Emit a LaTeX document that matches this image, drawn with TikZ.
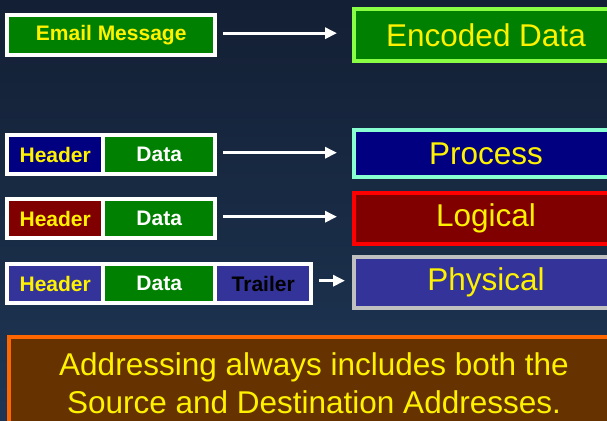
\documentclass[tikz,border=0pt]{standalone}
\usepackage{fontspec}
\setmainfont{Liberation Sans}
\usetikzlibrary{arrows.meta}
\definecolor{bgtop}{RGB}{19,31,52}
\definecolor{bgbot}{RGB}{30,54,84}
\definecolor{pgreen}{RGB}{0,128,0}
\definecolor{pnavy}{RGB}{0,0,128}
\definecolor{pmaroon}{RGB}{128,0,0}
\definecolor{pblue}{RGB}{51,51,153}
\definecolor{plime}{RGB}{136,255,68}
\definecolor{paqua}{RGB}{136,255,208}
\definecolor{psilver}{RGB}{192,192,192}
\definecolor{porange}{RGB}{255,102,0}
\definecolor{pbrown}{RGB}{102,51,0}
\tikzset{
  framebox/.style={fill=white, draw=none, inner sep=0pt, anchor=north west},
  cellbox/.style={draw=none, inner sep=0pt, anchor=north west, minimum height=35pt,
    font=\fontsize{21}{24}\selectfont\bfseries},
  bigbox/.style={line width=4pt, inner sep=0pt, anchor=north west, minimum width=264pt,
    text=yellow, font=\fontsize{31.5}{36}\selectfont},
  arr/.style={draw=white, line width=3pt, -{Triangle[length=12pt,width=11pt]}},
}
\begin{document}
\begin{tikzpicture}[x=1pt,y=-1pt]
\useasboundingbox (0,0) rectangle (607,420);
\shade[top color=bgtop, bottom color=bgbot] (0,0) rectangle (607,420);
% row 1
\node[framebox, minimum width=212pt, minimum height=44pt] (f1) at (5,13) {};
\node[cellbox, fill=pgreen, text=yellow, minimum width=204pt, minimum height=36pt] (email) at (9,17) {Email Message};
\node[bigbox, draw=plime, fill=pgreen, minimum height=52pt] (enc) at (352,7) {Encoded Data};
% row 2
\node[framebox, minimum width=212pt, minimum height=43pt] (f2) at (5,133) {};
\node[cellbox, fill=pnavy, text=yellow, minimum width=92pt] (h2) at (9,137) {Header};
\node[cellbox, fill=pgreen, text=white, minimum width=108pt] (d2) at (105,137) {Data};
\node[bigbox, draw=paqua, fill=pnavy, minimum height=47pt] (proc) at (352,128) {Process};
% row 3
\node[framebox, minimum width=212pt, minimum height=43pt] (f3) at (5,197) {};
\node[cellbox, fill=pmaroon, text=yellow, minimum width=92pt] (h3) at (9,201) {Header};
\node[cellbox, fill=pgreen, text=white, minimum width=108pt] (d3) at (105,201) {Data};
\node[bigbox, draw=red, fill=pmaroon, minimum height=51pt] (logi) at (352,191) {Logical};
% row 4
\node[framebox, minimum width=308pt, minimum height=43pt] (f4) at (5,262) {};
\node[cellbox, fill=pblue, text=yellow, minimum width=92pt] (h4) at (9,266) {Header};
\node[cellbox, fill=pgreen, text=white, minimum width=108pt] (d4) at (105,266) {Data};
\node[cellbox, fill=pblue, text=black, minimum width=92pt] (t4) at (217,266) {Trailer};
\node[bigbox, draw=psilver, fill=pblue, minimum height=51pt] (phys) at (352,255) {Physical};
% bottom
\node[line width=4pt, draw=porange, fill=pbrown, inner sep=0pt, anchor=north west,
  minimum width=610pt, minimum height=92pt, text=yellow, align=center,
  font=\fontsize{31.5}{38}\selectfont] (note) at (7,335)
  {Addressing always includes both the\\Source and Destination Addresses.};
% arrows
\coordinate (a1) at ([xshift=6pt,yshift=2pt]f1.east);
\coordinate (a2) at ([xshift=6pt,yshift=2pt]f2.east);
\coordinate (a3) at ([xshift=6pt,yshift=2pt]f3.east);
\coordinate (a4) at ([xshift=6pt,yshift=3pt]f4.east);
\draw[arr, shorten >=15pt] (a1) -- (a1 -| enc.west);
\draw[arr, shorten >=15pt] (a2) -- (a2 -| proc.west);
\draw[arr, shorten >=15pt] (a3) -- (a3 -| logi.west);
\draw[arr, shorten >=7pt] (a4) -- (a4 -| phys.west);
\end{tikzpicture}
\end{document}
